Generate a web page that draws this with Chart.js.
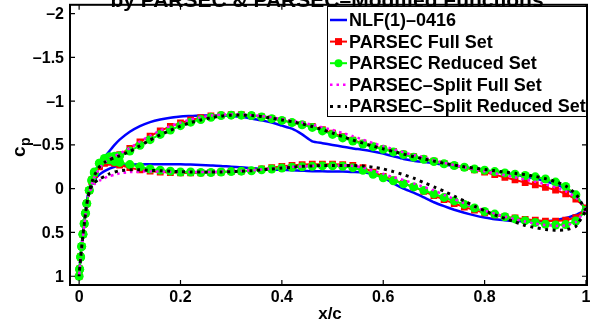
<!DOCTYPE html>
<html>
<head>
<meta charset="utf-8">
<script src="https://cdn.jsdelivr.net/npm/chart.js@4.4.0/dist/chart.umd.min.js"></script>
<style>
html, body { margin: 0; padding: 0; background: #fff; }
#wrap { width: 598px; height: 320px; }
</style>
</head>
<body>
<div id="wrap"><canvas id="grafico" width="598" height="320"></canvas></div>
<script>
// posiciones x/c (borde de ataque -> borde de fuga)
var xc = [0, 0.001, 0.003, 0.005, 0.0075, 0.01, 0.0125, 0.015, 0.02, 0.025, 0.03, 0.04, 0.05, 0.06, 0.07,
    0.08, 0.10, 0.12, 0.14, 0.16, 0.18, 0.20, 0.22, 0.24, 0.26, 0.28, 0.30, 0.32, 0.34, 0.36, 0.38,
    0.40, 0.42, 0.44, 0.46, 0.48, 0.50, 0.52, 0.54, 0.56, 0.58, 0.60, 0.62, 0.64, 0.66, 0.68, 0.70,
    0.72, 0.74, 0.76, 0.78, 0.80, 0.82, 0.84, 0.86, 0.88, 0.90, 0.92, 0.94, 0.96, 0.98, 1.00];

// NLF(1)-0416
var nlfSup = [1.0, 0.91, 0.76, 0.64, 0.50, 0.38, 0.26, 0.15, 0.0, -0.10, -0.18, -0.29, -0.36, -0.43, -0.50,
    -0.56, -0.65, -0.715, -0.76, -0.79, -0.81, -0.825, -0.83, -0.835, -0.835, -0.835, -0.83, -0.82, -0.80, -0.78, -0.755,
    -0.72, -0.685, -0.62, -0.54, -0.52, -0.50, -0.48, -0.46, -0.445, -0.425, -0.40, -0.37, -0.34, -0.32, -0.305, -0.29,
    -0.275, -0.26, -0.245, -0.23, -0.21, -0.195, -0.18, -0.16, -0.14, -0.115, -0.085, -0.05, 0.0, 0.08, 0.24];
var nlfInf = [1.0, 0.91, 0.76, 0.64, 0.50, 0.38, 0.26, 0.15, 0.0, -0.05, -0.10, -0.16, -0.20, -0.23, -0.25,
    -0.265, -0.275, -0.28, -0.28, -0.28, -0.28, -0.28, -0.275, -0.27, -0.265, -0.26, -0.25, -0.245, -0.235, -0.225, -0.22,
    -0.215, -0.21, -0.205, -0.20, -0.20, -0.195, -0.195, -0.19, -0.185, -0.17, -0.13, -0.06, 0.0, 0.045, 0.10, 0.155,
    0.20, 0.24, 0.275, 0.305, 0.33, 0.35, 0.36, 0.37, 0.375, 0.375, 0.37, 0.36, 0.335, 0.30, 0.24];

// PARSEC Full Set
var pfSup = [1.0, 0.92, 0.78, 0.66, 0.52, 0.40, 0.28, 0.17, 0.02, -0.08, -0.16, -0.26, -0.32, -0.35, -0.37,
    -0.39, -0.46, -0.535, -0.60, -0.66, -0.71, -0.75, -0.785, -0.81, -0.83, -0.84, -0.845, -0.845, -0.835, -0.82, -0.80,
    -0.78, -0.755, -0.735, -0.71, -0.675, -0.635, -0.595, -0.555, -0.52, -0.485, -0.455, -0.425, -0.395, -0.365, -0.34, -0.315,
    -0.29, -0.265, -0.24, -0.215, -0.19, -0.16, -0.13, -0.10, -0.07, -0.045, -0.015, 0.015, 0.06, 0.12, 0.22];
var pfInf = [1.0, 0.92, 0.78, 0.66, 0.52, 0.40, 0.28, 0.17, 0.02, -0.10, -0.17, -0.25, -0.29, -0.30, -0.29,
    -0.27, -0.24, -0.215, -0.20, -0.19, -0.185, -0.18, -0.18, -0.18, -0.185, -0.19, -0.195, -0.20, -0.21, -0.225, -0.24,
    -0.255, -0.265, -0.275, -0.28, -0.28, -0.28, -0.275, -0.265, -0.24, -0.19, -0.14, -0.10, -0.06, -0.02, 0.03, 0.08,
    0.125, 0.17, 0.21, 0.245, 0.275, 0.30, 0.32, 0.335, 0.35, 0.36, 0.37, 0.37, 0.36, 0.33, 0.23];

// PARSEC Reduced Set
var prSup = [1.0, 0.92, 0.78, 0.66, 0.52, 0.40, 0.28, 0.17, 0.02, -0.09, -0.18, -0.29, -0.345, -0.365, -0.37,
    -0.375, -0.43, -0.495, -0.56, -0.62, -0.67, -0.72, -0.76, -0.79, -0.815, -0.835, -0.84, -0.84, -0.835, -0.82, -0.80,
    -0.78, -0.755, -0.73, -0.70, -0.66, -0.62, -0.58, -0.545, -0.51, -0.48, -0.45, -0.42, -0.39, -0.36, -0.335, -0.31,
    -0.285, -0.265, -0.245, -0.225, -0.21, -0.195, -0.18, -0.165, -0.15, -0.135, -0.11, -0.075, -0.025, 0.07, 0.25];
var prInf = [1.0, 0.92, 0.78, 0.66, 0.52, 0.40, 0.28, 0.17, 0.02, -0.10, -0.19, -0.29, -0.33, -0.33, -0.31,
    -0.30, -0.275, -0.25, -0.225, -0.21, -0.20, -0.19, -0.19, -0.185, -0.185, -0.19, -0.195, -0.20, -0.205, -0.215, -0.225,
    -0.235, -0.245, -0.25, -0.255, -0.26, -0.26, -0.255, -0.24, -0.21, -0.165, -0.125, -0.09, -0.055, -0.02, 0.02, 0.06,
    0.10, 0.14, 0.18, 0.22, 0.26, 0.29, 0.32, 0.345, 0.365, 0.385, 0.405, 0.415, 0.41, 0.37, 0.25];

// PARSEC-Split Full Set
var sfSup = [1.0, 0.93, 0.80, 0.68, 0.55, 0.43, 0.31, 0.20, 0.05, -0.05, -0.13, -0.23, -0.30, -0.34, -0.37,
    -0.40, -0.465, -0.54, -0.605, -0.665, -0.715, -0.755, -0.79, -0.815, -0.835, -0.845, -0.85, -0.85, -0.84, -0.83, -0.815,
    -0.795, -0.775, -0.755, -0.73, -0.70, -0.67, -0.635, -0.60, -0.56, -0.52, -0.485, -0.45, -0.415, -0.385, -0.355, -0.325,
    -0.295, -0.27, -0.245, -0.22, -0.20, -0.175, -0.155, -0.13, -0.105, -0.08, -0.05, -0.015, 0.03, 0.10, 0.24];
var sfInf = [1.0, 0.93, 0.80, 0.68, 0.55, 0.43, 0.31, 0.20, 0.05, -0.01, -0.05, -0.09, -0.12, -0.145, -0.16,
    -0.175, -0.19, -0.195, -0.195, -0.195, -0.19, -0.19, -0.19, -0.19, -0.19, -0.195, -0.20, -0.205, -0.21, -0.22, -0.23,
    -0.24, -0.25, -0.255, -0.26, -0.265, -0.265, -0.265, -0.26, -0.24, -0.205, -0.17, -0.13, -0.10, -0.06, -0.02, 0.02,
    0.07, 0.12, 0.165, 0.21, 0.25, 0.285, 0.32, 0.35, 0.375, 0.40, 0.415, 0.425, 0.42, 0.38, 0.24];

// PARSEC-Split Reduced Set
var srSup = [1.0, 0.92, 0.79, 0.67, 0.53, 0.41, 0.29, 0.18, 0.03, -0.07, -0.15, -0.25, -0.30, -0.33, -0.355,
    -0.375, -0.425, -0.49, -0.555, -0.615, -0.665, -0.715, -0.755, -0.785, -0.81, -0.83, -0.84, -0.84, -0.835, -0.825, -0.805,
    -0.785, -0.765, -0.74, -0.71, -0.675, -0.635, -0.595, -0.555, -0.52, -0.485, -0.455, -0.425, -0.395, -0.365, -0.34, -0.315,
    -0.29, -0.27, -0.25, -0.235, -0.22, -0.205, -0.19, -0.175, -0.16, -0.14, -0.115, -0.08, -0.03, 0.06, 0.25];
var srInf = [1.0, 0.92, 0.79, 0.67, 0.53, 0.41, 0.29, 0.18, 0.03, -0.03, -0.07, -0.11, -0.14, -0.17, -0.19,
    -0.205, -0.215, -0.215, -0.21, -0.205, -0.20, -0.195, -0.19, -0.19, -0.19, -0.19, -0.195, -0.20, -0.205, -0.215, -0.225,
    -0.235, -0.245, -0.255, -0.26, -0.265, -0.265, -0.265, -0.265, -0.26, -0.245, -0.225, -0.195, -0.16, -0.12, -0.07, -0.02,
    0.03, 0.085, 0.14, 0.20, 0.25, 0.30, 0.34, 0.38, 0.42, 0.445, 0.465, 0.475, 0.47, 0.43, 0.25];

var xTicks = [0, 0.2, 0.4, 0.6, 0.8, 1];
var xTickLabels = ['0', '0.2', '0.4', '0.6', '0.8', '1'];
var yTicks = [-2, -1.5, -1, -0.5, 0, 0.5, 1];
var yTickLabels = ['\u20132', '\u20131.5', '\u20131', '\u20130.5', '0', '0.5', '1'];

var nombres = ['NLF(1)\u20130416', 'PARSEC Full Set', 'PARSEC Reduced Set',
    'PARSEC\u2013Split Full Set', 'PARSEC\u2013Split Reduced Set'];
var titulo = 'by PARSEC & PARSEC\u2013Modified Functions';

function lazo(sup, inf) {
    var pts = [];
    for (var i = xc.length - 1; i >= 0; i--) {
        pts.push({x: xc[i], y: sup[i]});
    }
    for (var j = 1; j < xc.length; j++) {
        pts.push({x: xc[j], y: inf[j]});
    }
    return pts;
}

var FUENTE = "'Liberation Sans', Arial, sans-serif";

function muestra(ctx, ds, x0, x1, y) {
    ctx.save();
    ctx.strokeStyle = ds.borderColor;
    ctx.lineWidth = ds.borderWidth;
    ctx.setLineDash(ds.borderDash || []);
    ctx.beginPath();
    ctx.moveTo(x0, y);
    ctx.lineTo(x1, y);
    ctx.stroke();
    ctx.setLineDash([]);
    var cx = (x0 + x1) / 2;
    ctx.fillStyle = ds.pointBackgroundColor || ds.borderColor;
    if (ds.pointRadius > 0 && ds.pointStyle === 'rect') {
        ctx.fillRect(cx - 3.5, y - 3.5, 7, 7);
    } else if (ds.pointRadius > 0) {
        ctx.beginPath();
        ctx.arc(cx, y, 4, 0, Math.PI * 2);
        ctx.fill();
    }
    ctx.restore();
}

var extras = {
    id: 'extras',
    afterDraw: function (chart) {
        var ctx = chart.ctx;
        var a = chart.chartArea;
        var sx = chart.scales.x;
        var sy = chart.scales.y;
        ctx.save();

        // marco y marcas hacia dentro
        ctx.strokeStyle = '#000';
        ctx.lineWidth = 2;
        ctx.strokeRect(a.left, a.top, a.right - a.left, a.bottom - a.top);
        ctx.lineWidth = 1.2;
        ctx.beginPath();
        xTicks.forEach(function (v) {
            var p = sx.getPixelForValue(v);
            ctx.moveTo(p, a.bottom);
            ctx.lineTo(p, a.bottom - 5);
            ctx.moveTo(p, a.top);
            ctx.lineTo(p, a.top + 5);
        });
        yTicks.forEach(function (v) {
            var p = sy.getPixelForValue(v);
            ctx.moveTo(a.left, p);
            ctx.lineTo(a.left + 5, p);
            ctx.moveTo(a.right, p);
            ctx.lineTo(a.right - 5, p);
        });
        ctx.stroke();

        // etiquetas de las marcas
        ctx.fillStyle = '#000';
        ctx.font = 'bold 16px ' + FUENTE;
        ctx.textBaseline = 'middle';
        ctx.textAlign = 'center';
        xTicks.forEach(function (v, i) {
            ctx.fillText(xTickLabels[i], sx.getPixelForValue(v), a.bottom + 13);
        });
        ctx.textAlign = 'right';
        yTicks.forEach(function (v, i) {
            ctx.fillText(yTickLabels[i], a.left - 6, sy.getPixelForValue(v) + 1);
        });

        // titulo (cortado arriba)
        ctx.font = 'bold 21px ' + FUENTE;
        ctx.textAlign = 'center';
        ctx.textBaseline = 'alphabetic';
        ctx.fillText(titulo, 327, 7);

        // etiqueta x
        ctx.font = 'bold 17px ' + FUENTE;
        ctx.fillText('x/c', 330, 318.5);

        // etiqueta y: c con subindice p
        ctx.save();
        ctx.translate(25, 157);
        ctx.rotate(-Math.PI / 2);
        ctx.textAlign = 'left';
        ctx.font = 'bold 19px ' + FUENTE;
        ctx.fillText('c', 0, 0);
        var wc = ctx.measureText('c').width;
        ctx.font = 'bold 14px ' + FUENTE;
        ctx.fillText('p', wc + 0.5, 5);
        ctx.restore();

        // leyenda
        var bx = 327, by = 6, bw = a.right - 327, bh = 111;
        ctx.fillStyle = '#fff';
        ctx.fillRect(bx, by, bw, bh);
        ctx.strokeStyle = '#000';
        ctx.lineWidth = 1;
        ctx.strokeRect(bx + 0.5, by + 0.5, bw - 1, bh - 1);
        ctx.font = 'bold 18px ' + FUENTE;
        ctx.textAlign = 'left';
        ctx.textBaseline = 'middle';
        for (var i = 0; i < nombres.length; i++) {
            var y = 20 + i * 21.6;
            muestra(ctx, chart.data.datasets[i], 330, 347, y);
            ctx.fillStyle = '#000';
            ctx.fillText(nombres[i], 349, y + 1);
        }
        ctx.restore();
    }
};

new Chart(document.getElementById('grafico'), {
    type: 'scatter',
    data: {
        datasets: [
            {
                label: nombres[0], data: lazo(nlfSup, nlfInf), showLine: true,
                borderColor: '#0000ff', borderWidth: 2.5, pointRadius: 0, tension: 0.15, order: 5
            },
            {
                label: nombres[1], data: lazo(pfSup, pfInf), showLine: true,
                borderColor: '#ff0000', borderWidth: 2, pointStyle: 'rect', pointRadius: 4.8,
                pointBackgroundColor: '#ff0000', pointBorderWidth: 0, tension: 0, order: 4
            },
            {
                label: nombres[2], data: lazo(prSup, prInf), showLine: true,
                borderColor: '#00ff00', borderWidth: 2, pointStyle: 'circle', pointRadius: 4.5,
                pointBackgroundColor: '#00ff00', pointBorderWidth: 0, tension: 0, order: 3
            },
            {
                label: nombres[3], data: lazo(sfSup, sfInf), showLine: true,
                borderColor: '#ff00ff', borderWidth: 2.5, borderDash: [2.5, 4], pointRadius: 0, tension: 0.15, order: 2
            },
            {
                label: nombres[4], data: lazo(srSup, srInf), showLine: true,
                borderColor: '#000000', borderWidth: 3, borderDash: [3, 4.5], pointRadius: 0, tension: 0.15, order: 1
            }
        ]
    },
    options: {
        responsive: false,
        animation: false,
        devicePixelRatio: 1,
        layout: {padding: {top: 4, right: 11, left: 0, bottom: 0}},
        plugins: {
            legend: {display: false},
            tooltip: {enabled: false},
            title: {display: false}
        },
        scales: {
            x: {
                type: 'linear',
                min: -0.018,
                max: 1.002,
                grid: {display: false, drawTicks: false},
                border: {display: false},
                ticks: {display: false},
                afterFit: function (s) { s.height = 35; }
            },
            y: {
                type: 'linear',
                reverse: true,
                min: -2.1,
                max: 1.1,
                grid: {display: false, drawTicks: false},
                border: {display: false},
                ticks: {display: false},
                afterFit: function (s) { s.width = 70; }
            }
        }
    },
    plugins: [extras]
});
</script>
</body>
</html>
